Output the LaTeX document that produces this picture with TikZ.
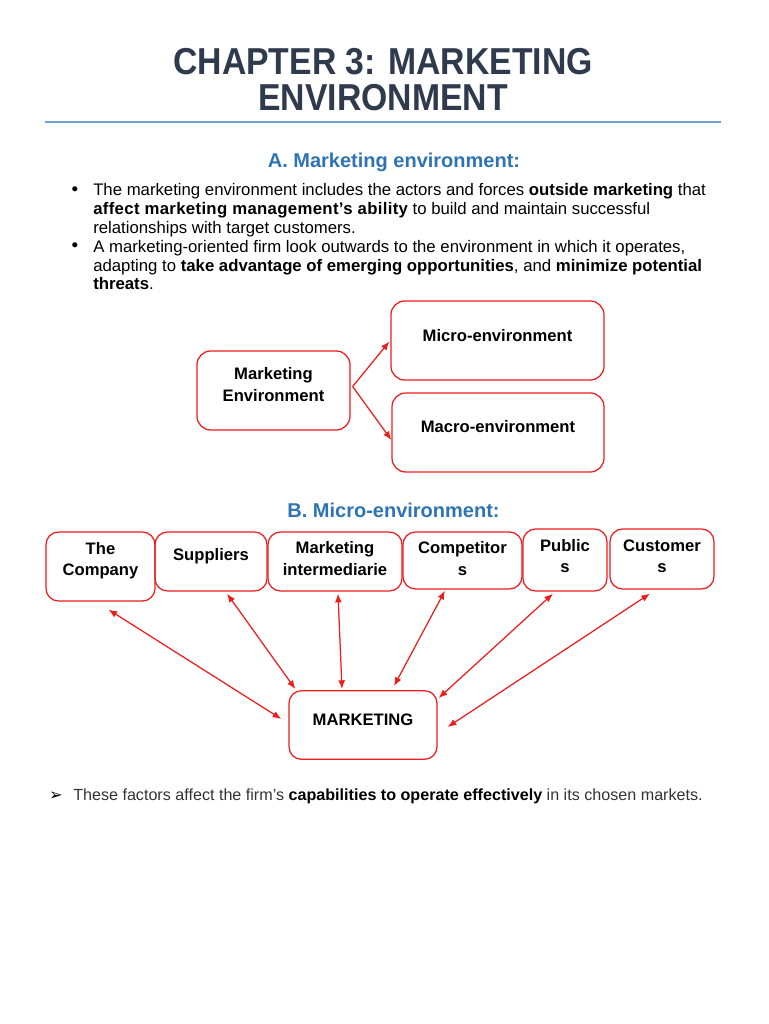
\documentclass[tikz,border=0pt]{standalone}
\usepackage{fontspec}
\setmainfont{Liberation Sans}
\newfontfamily\titlefont[FakeStretch=0.9]{Liberation Sans}
\newfontfamily\symfont{DejaVu Sans}
\usetikzlibrary{arrows.meta, calc, positioning}

\definecolor{titlegray}{HTML}{2F3B4D}
\definecolor{headblue}{HTML}{2E74B5}
\definecolor{ruleblue}{HTML}{6F9FD3}
\definecolor{boxred}{HTML}{EE1C1C}
\definecolor{bodygray}{HTML}{333333}

\tikzset{
  rbox/.style={draw=boxred, line width=1pt, rounded corners=10pt, inner sep=0pt},
  boxtext/.style={align=center, inner sep=0pt, font=\fontsize{13.3}{17}\selectfont\bfseries},
  bodytext/.style={align=left, inner sep=0pt, font=\fontsize{13.4}{14.9}\selectfont},
  onearrow/.style={draw=boxred, line width=1pt, -{Latex[length=7pt,width=5.5pt]}},
  twoarrow/.style={draw=boxred, line width=1pt, {Latex[length=7pt,width=5.5pt]}-{Latex[length=7pt,width=5.5pt]}}
}

\begin{document}
\begin{tikzpicture}[x=0.8pt, y=-0.8pt]
\useasboundingbox (0,0) rectangle (768,1024);

% title and rule
\node[anchor=north, align=center, inner sep=0pt, text=titlegray,
      font=\titlefont\bfseries\fontsize{30}{29.2}\selectfont] (title) at (383,48) {CHAPTER 3: MARKETING\\ENVIRONMENT};
\draw[ruleblue, line width=0.9pt] (45,122) -- (721,122);

% section A
\node[anchor=base, inner sep=0pt, text=headblue, font=\fontsize{16}{18}\selectfont\bfseries] (heada) at (394,168) {A. Marketing environment:};

\node[bodytext, font=\fontsize{15}{15}\selectfont] (dot1) at (75,191) {•};
\node[bodytext, anchor=north west] (bul1) at (93,183.5) {The marketing environment includes the actors and forces \textbf{outside marketing} that\\
  {\bfseries\addfontfeatures{LetterSpace=2}affect marketing management’s ability} to build and maintain successful\\
  relationships with target customers.};
\node[bodytext, font=\fontsize{15}{15}\selectfont] (dot2) at (75,247) {•};
\node[bodytext, anchor=north west] (bul2) at (93,240) {A marketing-oriented firm look outwards to the environment in which it operates,\\
  adapting to \textbf{take advantage of emerging opportunities}, and \textbf{minimize potential}\\
  \textbf{threats}.};

% diagram A
\foreach \nm/\cx/\cy/\w/\h/\up/\txt in {
  env/273.5/390.5/122.4/63.2/6/{Marketing\\Environment},
  micro/497.5/340.5/170.4/63.2/5/{Micro-environment},
  macro/498/432.5/169.6/63.2/5.5/{Macro-environment}}
{
  \node[rbox, rounded corners=11pt, minimum width=\w pt, minimum height=\h pt] (\nm) at (\cx,\cy) {};
  \node[boxtext] (\nm-txt) at ($(\nm.center)+(0,-\up)$) {\txt};
}
\draw[onearrow] ($(env.east)+(2,-4)$) -- ($(micro.west)+(-1,1)$);
\draw[onearrow] ($(env.east)+(2,-4)$) -- ($(macro.west)+(0,7.5)$);

% section B
\node[anchor=base, inner sep=0pt, text=headblue, font=\fontsize{16}{18}\selectfont\bfseries] (headb) at (393.5,517) {B. Micro-environment:};

\foreach \nm/\cx/\cy/\w/\h/\up/\txt in {
  comp/100.5/566.5/87.2/55.2/5.5/{The\\Company},
  supp/211/561.5/89.6/47.2/5.5/{Suppliers},
  inter/335/561.5/107.2/47.2/3/{Marketing\\intermediarie},
  compet/462.5/560.5/95.2/45.6/2/{Competitor\\s},
  pub/565/560/67.2/49.6/4/{Public\\s},
  cust/662/559/83.2/48/3/{Customer\\s},
  mkt/363/725/118.4/54.9/5.7/{MARKETING}}
{
  \node[rbox, minimum width=\w pt, minimum height=\h pt] (\nm) at (\cx,\cy) {};
  \node[boxtext] (\nm-txt) at ($(\nm.center)+(0,-\up)$) {\txt};
}
\draw[twoarrow] ($(comp.south)+(8,8)$) -- ($(mkt.west)+(-7,-6)$);
\draw[twoarrow] ($(supp.south)+(16,2)$) -- ($(mkt.north west)+(7,-1)$);
\draw[twoarrow] ($(inter.south)+(3,2)$) -- ($(mkt.north)+(-21,-1)$);
\draw[twoarrow] ($(compet.south)+(-17.5,1)$) -- ($(mkt.north)+(31,-4)$);
\draw[twoarrow] ($(pub.south)+(-12,2)$) -- ($(mkt.north east)+(1,8)$);
\draw[twoarrow] ($(cust.south)+(-12,4)$) -- ($(mkt.east)+(10,2)$);

% closing remark
\node[bodytext, font=\symfont\fontsize{13}{13}\selectfont] (mark) at (56,796) {➢};
\node[bodytext, anchor=base west, text=bodygray, font=\fontsize{12.9}{14.8}\selectfont] (note) at (73,800) {These factors affect the firm’s \textbf{\color{black}capabilities to operate effectively} in its chosen markets.};
\end{tikzpicture}
\end{document}
